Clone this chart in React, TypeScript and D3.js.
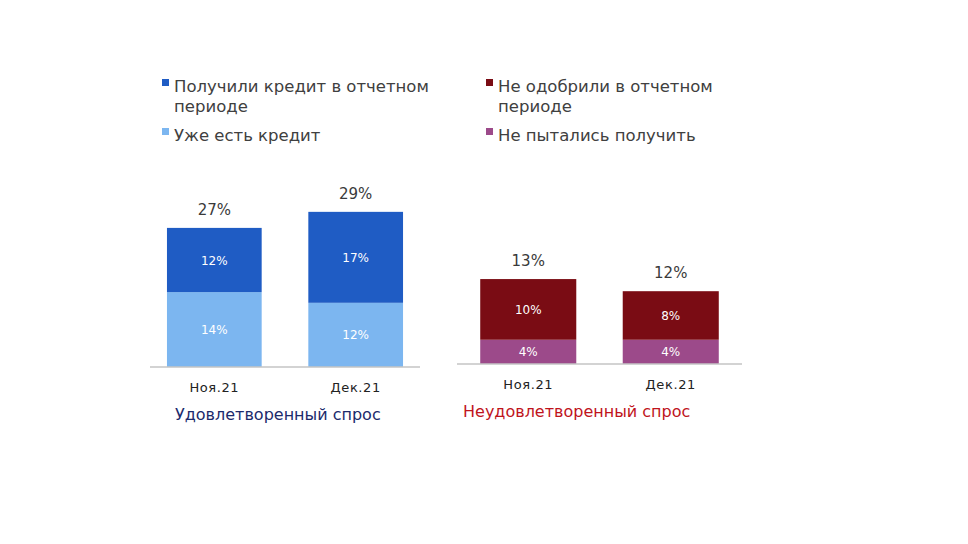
import * as d3 from 'd3';

const WIDTH = 968;
const HEIGHT = 544;
const FONT = '"DejaVu Sans", sans-serif';

const categories = ['Ноя.21', 'Дек.21'];

// Удовлетворенный спрос
const gotCredit = [12, 17];
const haveCredit = [14, 12];
const satisfiedTotals = ['27%', '29%'];

// Неудовлетворенный спрос
const rejected = [10, 8];
const notTried = [4, 4];
const unsatisfiedTotals = ['13%', '12%'];

const legendLeft = [
  { lines: ['Получили кредит в отчетном', 'периоде'], color: '#1f5cc4' },
  { lines: ['Уже есть кредит'], color: '#7cb6f0' },
];
const legendRight = [
  { lines: ['Не одобрили в отчетном', 'периоде'], color: '#7a0c14' },
  { lines: ['Не пытались получить'], color: '#9c4a8a' },
];

type PanelProps = {
  x0: number;
  x1: number;
  baseline: number;
  maxY: number;
  pxHeight: number;
  paddingInner: number;
  paddingOuter: number;
  bottom: number[];
  top: number[];
  totals: string[];
  bottomColor: string;
  topColor: string;
  title: string;
  titleColor: string;
  titleX: number;
  titleY: number;
};

function Panel(p: PanelProps) {
  const x = d3
    .scaleBand<string>()
    .domain(categories)
    .range([p.x0, p.x1])
    .paddingInner(p.paddingInner)
    .paddingOuter(p.paddingOuter);
  const y = d3.scaleLinear().domain([0, p.maxY]).range([p.baseline, p.baseline - p.pxHeight]);
  const bw = x.bandwidth();

  return (
    <g>
      {categories.map((c, i) => {
        const bx = x(c) ?? 0;
        const cx = bx + bw / 2;
        const b = p.bottom[i];
        const t = p.top[i];
        const yb = y(b);
        const yt = y(b + t);
        return (
          <g key={c}>
            <rect x={bx} y={yb} width={bw} height={p.baseline - yb} fill={p.bottomColor} />
            <rect x={bx} y={yt} width={bw} height={yb - yt} fill={p.topColor} />
            <text x={cx} y={(yb + p.baseline) / 2 + 4.5} textAnchor="middle" fill="#fff" fontSize={12}>
              {b}%
            </text>
            <text x={cx} y={(yt + yb) / 2 + 4.5} textAnchor="middle" fill="#fff" fontSize={12}>
              {t}%
            </text>
            <text x={cx} y={yt - 13} textAnchor="middle" fill="#3a3a3a" fontSize={15}>
              {p.totals[i]}
            </text>
            <text
              x={cx}
              y={p.baseline + 25}
              textAnchor="middle"
              fill="#222"
              fontSize={13}
              letterSpacing={0.6}
            >
              {c}
            </text>
          </g>
        );
      })}
      <line x1={p.x0} x2={p.x1} y1={p.baseline} y2={p.baseline} stroke="#c4c4c4" strokeWidth={1.5} />
      <text x={p.titleX} y={p.titleY} fill={p.titleColor} fontSize={16}>
        {p.title}
      </text>
    </g>
  );
}

function Legend({ x, items }: { x: number; items: { lines: string[]; color: string }[] }) {
  const baselines = [[92, 112], [141]];
  return (
    <g>
      {items.map((it, i) => (
        <g key={i}>
          <rect x={x} y={baselines[i][0] - 13} width={7} height={7} fill={it.color} />
          {it.lines.map((l, j) => (
            <text key={j} x={x + 12} y={baselines[i][j]} fill="#404040" fontSize={16.5}>
              {l}
            </text>
          ))}
        </g>
      ))}
    </g>
  );
}

export default function App() {
  return (
    <div style={{ position: 'fixed', left: 0, top: 0, width: WIDTH, height: HEIGHT, background: '#fff' }}>
      <svg width={WIDTH} height={HEIGHT} style={{ fontFamily: FONT, display: 'block' }}>
        <rect width={WIDTH} height={HEIGHT} fill="#fff" />
        <Legend x={162} items={legendLeft} />
        <Legend x={486} items={legendRight} />
        <Panel
          x0={150}
          x1={420}
          baseline={367}
          maxY={30}
          pxHeight={160.5}
          paddingInner={0.33}
          paddingOuter={0.12}
          bottom={haveCredit}
          top={gotCredit}
          totals={satisfiedTotals}
          bottomColor="#7cb6f0"
          topColor="#1f5cc4"
          title="Удовлетворенный спрос"
          titleColor="#1c2a6c"
          titleX={175}
          titleY={420}
        />
        <Panel
          x0={457}
          x1={742}
          baseline={364}
          maxY={15}
          pxHeight={91}
          paddingInner={0.326}
          paddingOuter={0.163}
          bottom={notTried}
          top={rejected}
          totals={unsatisfiedTotals}
          bottomColor="#9c4a8a"
          topColor="#7a0c14"
          title="Неудовлетворенный спрос"
          titleColor="#c0141c"
          titleX={463}
          titleY={417}
        />
      </svg>
    </div>
  );
}
